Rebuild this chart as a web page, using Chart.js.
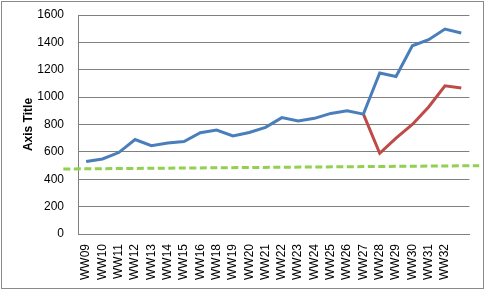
<!DOCTYPE html>
<html>
<head>
<meta charset="utf-8">
<script src="https://cdn.jsdelivr.net/npm/chart.js@4.4.0/dist/chart.umd.min.js"></script>
<style>
  html, body { margin: 0; padding: 0; background: #fff; }
  #wrap { width: 486px; height: 291px; position: relative; background: #fff; }
</style>
</head>
<body>
<div id="wrap"><canvas id="chart"></canvas></div>
<script>
// week labels (last category has no label in the original)
const weeks = ['WW09', 'WW10', 'WW11', 'WW12', 'WW13', 'WW14', 'WW15', 'WW16', 'WW18', 'WW19',
  'WW20', 'WW21', 'WW22', 'WW23', 'WW24', 'WW25', 'WW26', 'WW27', 'WW28', 'WW29',
  'WW30', 'WW31', 'WW32', ''];

const actual = [530, 548, 595, 690, 645, 665, 676, 740, 760, 716,
  742, 779, 850, 825, 845, 881, 900, 876, 1176, 1151,
  1375, 1419, 1497, 1468];

const adjusted = [null, null, null, null, null, null, null, null, null, null,
  null, null, null, null, null, null, null, 876, 590, 700,
  800, 928, 1083, 1066];

// trend line, runs a bit past both ends of the plot
const trendX = [-1.4, 24.1];
const trendY = [475, 499];

const yTicks = [0, 200, 400, 600, 800, 1000, 1200, 1400, 1600];

const toPoints = (vals) => vals.map((v, i) => ({ x: i, y: v }));

Chart.defaults.color = '#000';
Chart.defaults.font.family = '"Liberation Sans", Arial, sans-serif';
Chart.defaults.font.size = 12;

const frame = {
  id: 'frame',
  afterDraw(chart) {
    const ctx = chart.ctx;
    ctx.save();
    ctx.strokeStyle = '#8a8a8a';
    ctx.lineWidth = 1;
    ctx.strokeRect(1.5, 1.5, 482, 287);
    ctx.restore();
  }
};

const ctx = document.getElementById('chart').getContext('2d');
new Chart(ctx, {
  type: 'line',
  data: {
    datasets: [
      {
        label: 'Trend',
        data: trendX.map((x, i) => ({ x, y: trendY[i] })),
        borderColor: '#92d050',
        borderWidth: 3,
        borderDash: [7, 3.5],
        pointRadius: 0,
        tension: 0,
        clip: false,
      },
      {
        label: 'Actual',
        data: toPoints(actual),
        borderColor: '#4a7ebb',
        borderWidth: 3,
        pointRadius: 0,
        tension: 0,
      },
      {
        label: 'Adjusted',
        data: toPoints(adjusted),
        borderColor: '#be4b48',
        borderWidth: 3,
        pointRadius: 0,
        tension: 0,
      },
    ],
  },
  options: {
    responsive: true,
    maintainAspectRatio: false,
    animation: false,
    layout: { padding: { left: 0, top: 15, right: 16, bottom: 0 } },
    plugins: {
      legend: { display: false },
      tooltip: { enabled: false },
    },
    scales: {
      x: {
        type: 'linear',
        min: -0.5,
        max: weeks.length - 0.5,
        grid: { display: false, drawTicks: false, tickLength: 0 },
        border: { display: true, color: '#7f7f7f', width: 1 },
        afterBuildTicks: (scale) => {
          scale.ticks = weeks.map((w, i) => ({ value: i }));
        },
        afterFit: (scale) => { scale.height = 57; },
        ticks: {
          autoSkip: false,
          minRotation: 90,
          maxRotation: 90,
          padding: 10,
          callback: (value) => weeks[value] ?? '',
        },
      },
      y: {
        min: 0,
        max: 1600,
        // tick marks kept invisible, their length only pushes the labels off the axis
        grid: { color: '#7f7f7f', lineWidth: 1, tickLength: 11, tickColor: 'rgba(0,0,0,0)' },
        border: { display: true, color: '#7f7f7f', width: 1 },
        afterBuildTicks: (scale) => {
          scale.ticks = yTicks.map((v) => ({ value: v }));
        },
        afterTickToLabelConversion: (scale) => {
          scale.ticks.forEach((t) => { t.label = String(t.value); });
        },
        afterFit: (scale) => { scale.width = 78; },
        title: {
          display: true,
          text: 'Axis Title',
          padding: { top: 21, bottom: 0 },
          font: { weight: 'bold' },
        },
      },
    },
  },
  plugins: [frame],
});
</script>
</body>
</html>
